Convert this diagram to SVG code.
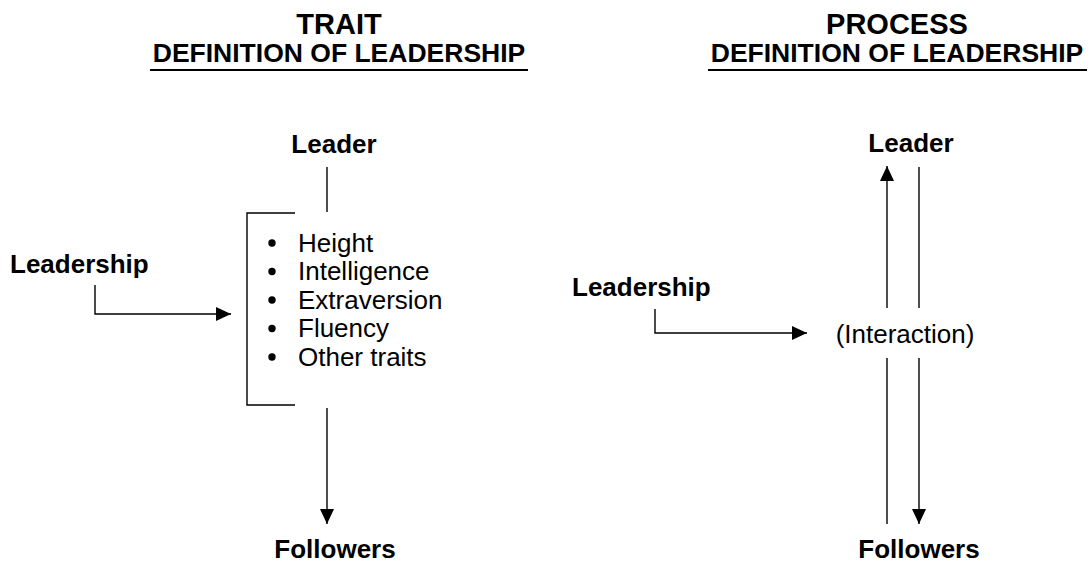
<svg xmlns="http://www.w3.org/2000/svg" width="1090" height="563" viewBox="0 0 1090 563">
  <style>
    text { font-family: "Liberation Sans", Arial, sans-serif; fill: #000; }
    .title { font-size: 29px; font-weight: bold; text-anchor: middle; }
    .sub { font-size: 26.5px; font-weight: bold; text-anchor: middle; }
    .lbl { font-size: 26px; font-weight: bold; }
    .mid { text-anchor: middle; }
    .item { font-size: 26px; }
    .ln { stroke: #000; stroke-width: 1.4; fill: none; }
    .ul { stroke: #000; stroke-width: 2; }
  </style>
  <defs>
    <marker id="arrow" markerUnits="userSpaceOnUse" markerWidth="15" markerHeight="14" refX="15" refY="7" orient="auto">
      <path d="M0,0 L15,7 L0,14 z" fill="#000"/>
    </marker>
  </defs>
  <rect width="1090" height="563" fill="#fff"/>

  <!-- Trait side -->
  <g id="trait-title">
    <text class="title" x="339" y="34">TRAIT</text>
    <text class="sub" x="339" y="62">DEFINITION OF LEADERSHIP</text>
    <line class="ul" x1="150" y1="70" x2="528" y2="70"/>
  </g>
  <g id="trait-leader">
    <text class="lbl mid" x="334" y="153">Leader</text>
  </g>
  <g id="trait-leadership">
    <text class="lbl" x="10" y="273">Leadership</text>
  </g>
  <g id="trait-list">
    <path class="ln" d="M295,213 H247 V405 H295"/>
    <g>
      <circle cx="272" cy="243" r="3.7"/>
      <circle cx="272" cy="271.5" r="3.7"/>
      <circle cx="272" cy="300" r="3.7"/>
      <circle cx="272" cy="328.5" r="3.7"/>
      <circle cx="272" cy="357" r="3.7"/>
    </g>
    <text class="item" x="298" y="251.5">Height</text>
    <text class="item" x="298" y="280">Intelligence</text>
    <text class="item" x="298" y="308.5">Extraversion</text>
    <text class="item" x="298" y="337">Fluency</text>
    <text class="item" x="298" y="365.5">Other traits</text>
  </g>
  <g id="trait-followers">
    <text class="lbl mid" x="335" y="558">Followers</text>
  </g>

  <!-- Process side -->
  <g id="process-title">
    <text class="title" x="897" y="34">PROCESS</text>
    <text class="sub" x="897" y="62">DEFINITION OF LEADERSHIP</text>
    <line class="ul" x1="708" y1="70" x2="1087" y2="70"/>
  </g>
  <g id="process-leader">
    <text class="lbl mid" x="911" y="152">Leader</text>
  </g>
  <g id="process-leadership">
    <text class="lbl" x="572" y="296">Leadership</text>
  </g>
  <g id="process-interaction">
    <text class="item mid" x="905" y="343">(Interaction)</text>
  </g>
  <g id="process-followers">
    <text class="lbl mid" x="919" y="558">Followers</text>
  </g>

  <g id="connectors">
    <!-- trait -->
    <line class="ln" x1="327" y1="167" x2="327" y2="212"/>
    <path class="ln" d="M95,285 V314 H231" marker-end="url(#arrow)"/>
    <line class="ln" x1="327" y1="408" x2="327" y2="524" marker-end="url(#arrow)"/>
    <!-- process -->
    <line class="ln" x1="887" y1="308" x2="887" y2="166" marker-end="url(#arrow)"/>
    <line class="ln" x1="919" y1="167" x2="919" y2="308"/>
    <path class="ln" d="M655,309 V333 H807" marker-end="url(#arrow)"/>
    <line class="ln" x1="887" y1="358" x2="887" y2="524"/>
    <line class="ln" x1="919" y1="358" x2="919" y2="524" marker-end="url(#arrow)"/>
  </g>
</svg>
